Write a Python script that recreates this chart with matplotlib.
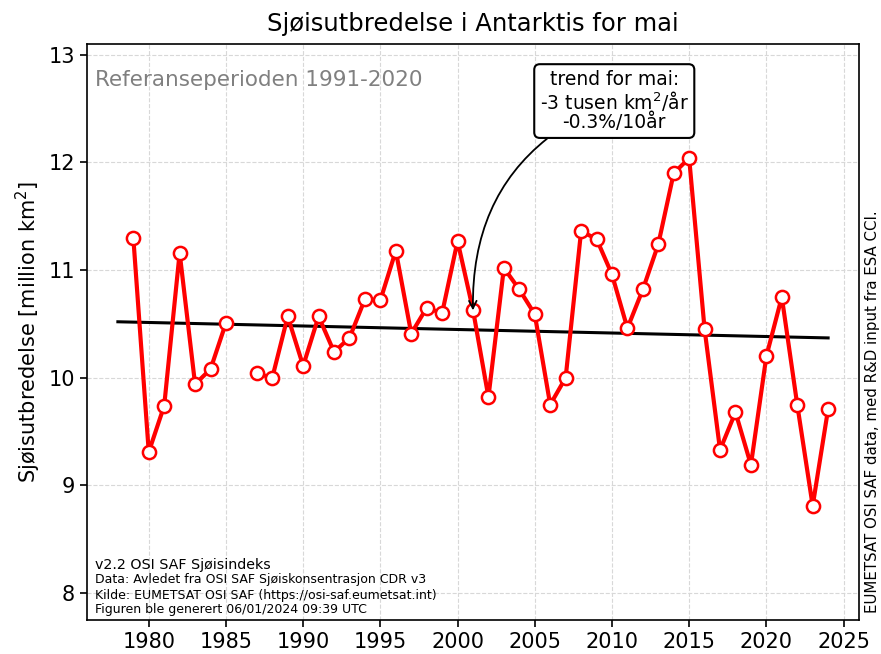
import numpy as np
import matplotlib
matplotlib.use("Agg")
import matplotlib.pyplot as plt

years = list(range(1979, 2025))
extent = [11.30, 9.31, 9.74, 11.16, 9.94, 10.08, 10.51, np.nan, 10.04, 10.00,
          10.57, 10.11, 10.57, 10.24, 10.37, 10.73, 10.72, 11.18, 10.41, 10.65,
          10.60, 11.27, 10.63, 9.82, 11.02, 10.82, 10.59, 9.75, 10.00, 11.36,
          11.29, 10.96, 10.46, 10.82, 11.24, 11.90, 12.04, 10.45, 9.33, 9.68,
          9.19, 10.20, 10.75, 9.75, 8.81, 9.71]
trend_years = [1978, 2024]
trend_values = [10.52, 10.37]
xticks = [1980, 1985, 1990, 1995, 2000, 2005, 2010, 2015, 2020, 2025]
yticks = [8, 9, 10, 11, 12, 13]

fig = plt.figure(figsize=(8.81, 6.54), dpi=100)
ax = fig.add_axes([87/881, 1 - 620/654, (859-87)/881, (620-44)/654])

ax.plot(trend_years, trend_values, color='black', lw=2.2, zorder=2)
ax.plot(years, extent, color='red', lw=3, marker='o', markersize=9.5,
        markerfacecolor='white', markeredgecolor='red', markeredgewidth=1.8, zorder=3)

ax.set_xlim(1976, 2026)
ax.set_ylim(7.75, 13.1)
ax.set_xticks(xticks)
ax.set_yticks(yticks)
ax.tick_params(labelsize=15, length=5, width=1.2)
ax.grid(True, ls='--', color='#d8d8d8', lw=0.8)
ax.set_axisbelow(True)
for s in ax.spines.values():
    s.set_linewidth(1.2)

ax.set_title('Sjøisutbredelse i Antarktis for mai', fontsize=17.5, pad=9)
ax.set_ylabel('Sjøisutbredelse [million km$^2$]', fontsize=15)

ax.text(0.011, 0.955, 'Referanseperioden 1991-2020', transform=ax.transAxes,
        fontsize=15.5, color='gray', va='top', ha='left')

ax.annotate('trend for mai:\n-3 tusen km$^2$/år\n-0.3%/10år',
            xy=(2001, 10.60), xytext=(2010.15, 12.57),
            fontsize=13.5, ha='center', va='center', linespacing=1.0,
            bbox=dict(boxstyle='round,pad=0.3', fc='white', ec='black', lw=1.5),
            arrowprops=dict(arrowstyle='->', color='black', lw=1.3,
                            connectionstyle='arc3,rad=0.35', shrinkA=0, shrinkB=2))

ax.text(0.010, (620-565)/576, 'v2.2 OSI SAF Sjøisindeks', transform=ax.transAxes,
        fontsize=10.3, va='center', ha='left')
lines = ['Data: Avledet fra OSI SAF Sjøiskonsentrasjon CDR v3',
         'Kilde: EUMETSAT OSI SAF (https://osi-saf.eumetsat.int)',
         'Figuren ble generert 06/01/2024 09:39 UTC']
for yy, ln in zip([580, 595, 609], lines):
    ax.text(0.010, (620-yy)/576, ln, transform=ax.transAxes,
            fontsize=9, va='center', ha='left')

fig.text(872/881, 1 - 412/654, 'EUMETSAT OSI SAF data, med R&D input fra ESA CCI.',
         rotation=90, fontsize=10.8, ha='center', va='center')

fig.savefig('out.png', dpi=100)
